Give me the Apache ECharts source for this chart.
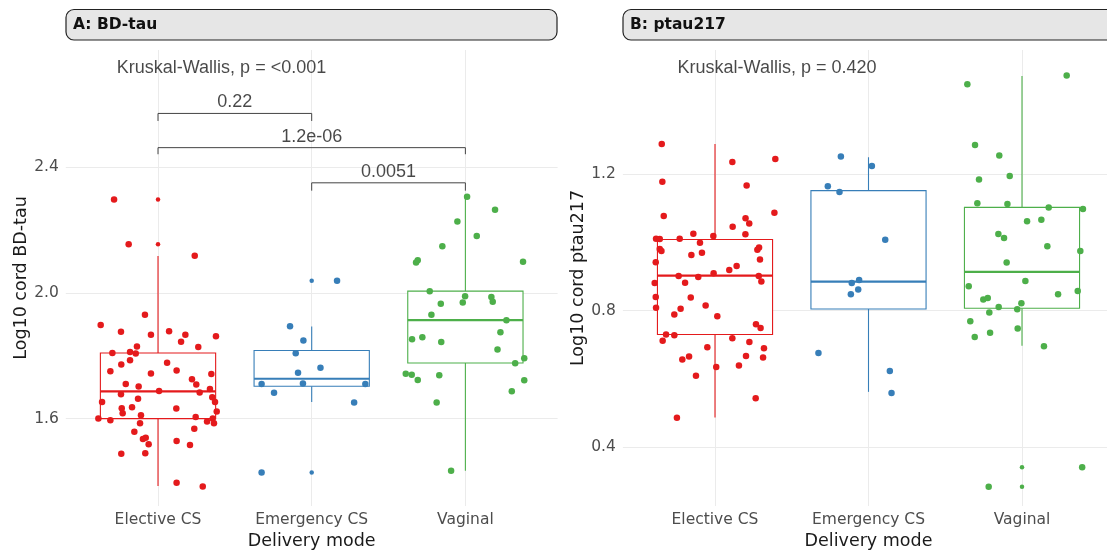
<!DOCTYPE html>
<html><head><meta charset="utf-8">
<script src="https://cdn.jsdelivr.net/npm/echarts@6/dist/echarts.min.js"></script>
<style>html,body{margin:0;padding:0;background:#fff}#c{width:1107px;height:550px}</style>
</head><body><div id="c"></div><script>
// ---------- data ----------
const categories = ['Elective CS', 'Emergency CS', 'Vaginal'];
const panelTitles = ['A: BD-tau', 'B: ptau217'];
const yTitles = ['Log10 cord BD-tau', 'Log10 cord ptau217'];
const xTitle = 'Delivery mode';
const kwLabels = ['Kruskal-Wallis, p = <0.001', 'Kruskal-Wallis, p = 0.420'];
const yTicksA = [1.6, 2.0, 2.4];
const yTicksB = [0.4, 0.8, 1.2];

// [jitter offset, value]
const bdtauElective = [[-0.286,2.298],[-0.191,2.155],[0.239,2.119],[-0.085,1.931],[-0.373,1.898],[-0.241,1.877],[-0.046,1.867],[0.072,1.878],[0.178,1.867],[0.150,1.845],[0.377,1.862],[0.262,1.828],[-0.137,1.830],[-0.182,1.812],[-0.145,1.807],[-0.297,1.809],[-0.182,1.786],[-0.239,1.772],[0.059,1.778],[-0.310,1.751],[-0.046,1.744],[0.121,1.753],[0.347,1.742],[0.221,1.725],[0.249,1.709],[-0.210,1.710],[-0.126,1.702],[0.338,1.694],[0.007,1.688],[0.271,1.683],[-0.241,1.678],[0.353,1.668],[-0.130,1.663],[-0.364,1.653],[0.371,1.653],[-0.236,1.633],[-0.169,1.636],[0.119,1.632],[-0.230,1.617],[0.382,1.623],[-0.388,1.600],[-0.310,1.595],[-0.111,1.611],[-0.117,1.585],[0.245,1.605],[0.319,1.591],[0.356,1.600],[0.364,1.585],[-0.154,1.558],[0.236,1.568],[-0.098,1.535],[-0.080,1.539],[-0.061,1.518],[0.121,1.529],[0.208,1.516],[-0.239,1.488],[-0.083,1.490],[0.121,1.396],[0.291,1.384]];
const bdtauEmergency = [[0.165,2.039],[-0.141,1.894],[-0.054,1.849],[-0.104,1.808],[0.057,1.762],[-0.089,1.746],[-0.326,1.710],[-0.057,1.712],[0.349,1.710],[-0.245,1.682],[0.276,1.651],[-0.326,1.428]];
const bdtauVaginal = [[0.011,2.307],[0.193,2.265],[-0.052,2.228],[0.074,2.182],[-0.150,2.149],[-0.321,2.097],[-0.310,2.104],[0.375,2.100],[-0.232,2.006],[-0.002,1.990],[0.169,1.987],[-0.160,1.966],[-0.017,1.970],[0.178,1.972],[-0.221,1.931],[0.267,1.913],[0.228,1.875],[-0.347,1.853],[-0.280,1.859],[-0.157,1.844],[0.209,1.820],[0.383,1.792],[0.324,1.776],[-0.388,1.743],[-0.349,1.740],[-0.310,1.723],[-0.170,1.738],[0.383,1.722],[0.302,1.687],[-0.187,1.651],[-0.093,1.434]];
// [whisker low, Q1, median, Q3, whisker high]
const bdtauBoxes = [[1.385,1.600,1.687,1.809,2.118],[1.653,1.703,1.727,1.817,1.893],[1.434,1.777,1.914,2.006,2.307]];
// [group (1-based), value]
const bdtauOutliers = [[1,2.298],[1,2.155],[2,2.039],[2,1.428]];
// [from, to, bar y, tick end y, label]
const bdtauBrackets = [[1,2,2.572,2.548,'0.22'],[1,3,2.463,2.442,'1.2e-06'],[2,3,2.351,2.326,'0.0051']];

const ptauElective = [[-0.347,1.289],[0.113,1.236],[0.393,1.245],[-0.343,1.178],[0.206,1.167],[-0.334,1.078],[0.387,1.087],[0.199,1.071],[0.223,1.056],[0.115,1.046],[0.198,1.024],[-0.141,1.026],[-0.011,1.019],[-0.384,1.011],[-0.360,1.010],[-0.230,1.011],[-0.098,0.999],[-0.360,0.981],[-0.349,0.975],[-0.154,0.963],[-0.085,0.970],[0.276,0.979],[0.287,0.985],[-0.386,0.942],[0.293,0.950],[0.141,0.931],[0.093,0.919],[-0.009,0.910],[-0.237,0.902],[-0.109,0.899],[0.285,0.902],[0.302,0.886],[-0.393,0.881],[-0.195,0.882],[-0.386,0.840],[-0.158,0.839],[-0.384,0.809],[-0.061,0.815],[-0.224,0.806],[-0.265,0.789],[0.015,0.784],[0.267,0.760],[0.297,0.749],[-0.319,0.730],[-0.265,0.728],[-0.341,0.712],[0.113,0.719],[0.224,0.708],[0.319,0.690],[-0.050,0.693],[-0.213,0.657],[-0.169,0.666],[0.202,0.667],[0.313,0.663],[0.008,0.635],[0.156,0.639],[-0.124,0.609],[0.265,0.543],[-0.248,0.486]];
const ptauEmergency = [[-0.180,1.252],[0.022,1.224],[-0.265,1.165],[-0.189,1.148],[0.109,1.008],[-0.061,0.890],[-0.109,0.881],[-0.067,0.862],[-0.115,0.848],[-0.326,0.676],[0.139,0.623],[0.150,0.559]];
const ptauVaginal = [[-0.356,1.464],[0.291,1.490],[-0.306,1.286],[-0.148,1.255],[-0.280,1.185],[-0.080,1.195],[-0.291,1.115],[-0.095,1.113],[0.174,1.103],[0.397,1.098],[0.033,1.062],[0.126,1.067],[-0.154,1.025],[-0.117,1.013],[0.165,0.989],[0.380,0.975],[-0.100,0.941],[0.022,0.887],[-0.347,0.872],[0.235,0.848],[0.363,0.858],[-0.252,0.833],[-0.223,0.837],[-0.152,0.811],[-0.004,0.822],[-0.031,0.804],[-0.213,0.795],[-0.337,0.769],[-0.028,0.748],[-0.308,0.723],[-0.208,0.735],[0.143,0.696],[0.392,0.341],[-0.217,0.284]];
const ptauBoxes = [[0.487,0.730,0.903,1.009,1.289],[0.562,0.805,0.885,1.152,1.250],[0.697,0.807,0.914,1.103,1.488]];
const ptauOutliers = [[3,0.341],[3,0.284]];

// ---------- styling ----------
const groupColors = ['#E41A1C', '#377EB8', '#4DAF4A'];
const gridLineColor = '#EBEBEB';
const tickFont = 'DejaVu Sans';

const chart = echarts.init(document.getElementById('c'), null, {renderer: 'canvas'});

function makeAxes(gi, yMin, yMax, yTicks) {
  const x = {
    type: 'value', gridIndex: gi, min: 0.4, max: 3.6,
    axisLine: {show: false},
    axisTick: {show: false, customValues: [1, 2, 3]},
    splitLine: {show: true, lineStyle: {color: gridLineColor, width: 1}},
    axisLabel: {customValues: [1, 2, 3], formatter: v => categories[Math.round(v) - 1],
      color: '#4D4D4D', fontFamily: tickFont, fontSize: 15.5, margin: 6},
    name: xTitle, nameLocation: 'middle', nameGap: 23,
    nameTextStyle: {color: '#1A1A1A', fontFamily: tickFont, fontSize: 17.5}
  };
  const y = {
    type: 'value', gridIndex: gi, min: yMin, max: yMax,
    axisLine: {show: false},
    axisTick: {show: false, customValues: yTicks},
    splitLine: {show: true, lineStyle: {color: gridLineColor, width: 1}},
    axisLabel: {customValues: yTicks, formatter: v => v.toFixed(1),
      color: '#4D4D4D', fontFamily: tickFont, fontSize: 15.5, margin: 7},
    name: yTitles[gi], nameLocation: 'middle', nameGap: 35, nameRotate: 90,
    nameTextStyle: {color: '#1A1A1A', fontFamily: tickFont, fontSize: 17.5}
  };
  return [x, y];
}

function boxSeries(gi, boxes) {
  return {
    type: 'custom', xAxisIndex: gi, yAxisIndex: gi, z: 2, silent: true,
    data: boxes.map((b, i) => [i + 1].concat(b)),
    encode: {x: 0, y: [1, 2, 3, 4, 5]},
    renderItem: (params, api) => {
      const xv = api.value(0);
      const lo = api.coord([xv, api.value(1)]);
      const q1 = api.coord([xv, api.value(2)]);
      const md = api.coord([xv, api.value(3)]);
      const q3 = api.coord([xv, api.value(4)]);
      const hi = api.coord([xv, api.value(5)]);
      const w = api.size([0.75, 0])[0];
      const c = groupColors[params.dataIndex];
      return {type: 'group', children: [
        {type: 'line', shape: {x1: lo[0], y1: lo[1], x2: q1[0], y2: q1[1]}, style: {stroke: c, lineWidth: 1.1}},
        {type: 'line', shape: {x1: q3[0], y1: q3[1], x2: hi[0], y2: hi[1]}, style: {stroke: c, lineWidth: 1.1}},
        {type: 'rect', shape: {x: q1[0] - w / 2, y: q3[1], width: w, height: q1[1] - q3[1]}, style: {fill: '#fff', stroke: c, lineWidth: 1.1}},
        {type: 'line', shape: {x1: md[0] - w / 2, y1: md[1], x2: md[0] + w / 2, y2: md[1]}, style: {stroke: c, lineWidth: 2.2}}
      ]};
    }
  };
}

function outlierSeries(gi, outs) {
  return outs.map(o => ({
    type: 'scatter', xAxisIndex: gi, yAxisIndex: gi, z: 3, silent: true,
    symbolSize: 4.5, itemStyle: {color: groupColors[o[0] - 1], opacity: 1},
    data: [[o[0], o[1]]]
  }));
}

function jitterSeries(gi, groups) {
  return groups.map((pts, k) => ({
    type: 'scatter', xAxisIndex: gi, yAxisIndex: gi, z: 4, silent: true,
    symbolSize: 6.5, itemStyle: {color: groupColors[k], opacity: 1},
    data: pts.map(p => [k + 1 + p[0], p[1]])
  }));
}

function bracketSeries(gi, brackets) {
  const out = [];
  brackets.forEach(b => {
    out.push({
      type: 'line', xAxisIndex: gi, yAxisIndex: gi, z: 5, silent: true, symbol: 'none',
      lineStyle: {color: '#444', width: 1},
      data: [[b[0], b[3]], [b[0], b[2]], [b[1], b[2]], [b[1], b[3]]]
    });
    out.push({
      type: 'scatter', xAxisIndex: gi, yAxisIndex: gi, z: 5, silent: true, symbolSize: 0,
      data: [{value: [(b[0] + b[1]) / 2, b[2]], name: b[4]}],
      label: {show: true, position: 'top', distance: 2, formatter: p => p.name,
        color: '#1A1A1A', fontFamily: 'Liberation Sans', fontSize: 18}
    });
  });
  return out;
}

function kwSeries(gi, pos, text) {
  return {
    type: 'scatter', xAxisIndex: gi, yAxisIndex: gi, z: 5, silent: true, symbolSize: 0,
    data: [{value: pos, name: text}],
    label: {show: true, position: 'inside', formatter: p => p.name,
      color: '#1A1A1A', fontFamily: 'Liberation Sans', fontSize: 18}
  };
}

const axA = makeAxes(0, 1.3217, 2.774, yTicksA);
const axB = makeAxes(1, 0.2273, 1.5645, yTicksB);

const option = {
  animation: false,
  backgroundColor: '#fff',
  grid: [
    {left: 65.8, right: 549.4, top: 50, bottom: 44, containLabel: false, outerBoundsMode: 'none'},
    {left: 622.9, right: -7.1, top: 50, bottom: 44, containLabel: false, outerBoundsMode: 'none'}
  ],
  xAxis: [axA[0], axB[0]],
  yAxis: [axA[1], axB[1]],
  graphic: [
    {type: 'rect', shape: {x: 66, y: 9.5, width: 491, height: 30.5, r: 8}, style: {fill: '#E6E6E6', stroke: '#222', lineWidth: 1.2}},
    {type: 'text', x: 73, y: 25, style: {text: panelTitles[0], font: 'bold 15.5px "DejaVu Sans"', fill: '#111', verticalAlign: 'middle', align: 'left'}},
    {type: 'rect', shape: {x: 623, y: 9.5, width: 500, height: 30.5, r: 8}, style: {fill: '#E6E6E6', stroke: '#222', lineWidth: 1.2}},
    {type: 'text', x: 630, y: 25, style: {text: panelTitles[1], font: 'bold 15.5px "DejaVu Sans"', fill: '#111', verticalAlign: 'middle', align: 'left'}}
  ],
  series: [].concat(
    boxSeries(0, bdtauBoxes),
    outlierSeries(0, bdtauOutliers),
    jitterSeries(0, [bdtauElective, bdtauEmergency, bdtauVaginal]),
    bracketSeries(0, bdtauBrackets),
    [kwSeries(0, [1.413, 2.717], kwLabels[0])],
    boxSeries(1, ptauBoxes),
    outlierSeries(1, ptauOutliers),
    jitterSeries(1, [ptauElective, ptauEmergency, ptauVaginal]),
    [kwSeries(1, [1.404, 1.512], kwLabels[1])]
  )
};
chart.setOption(option);
</script></body></html>
